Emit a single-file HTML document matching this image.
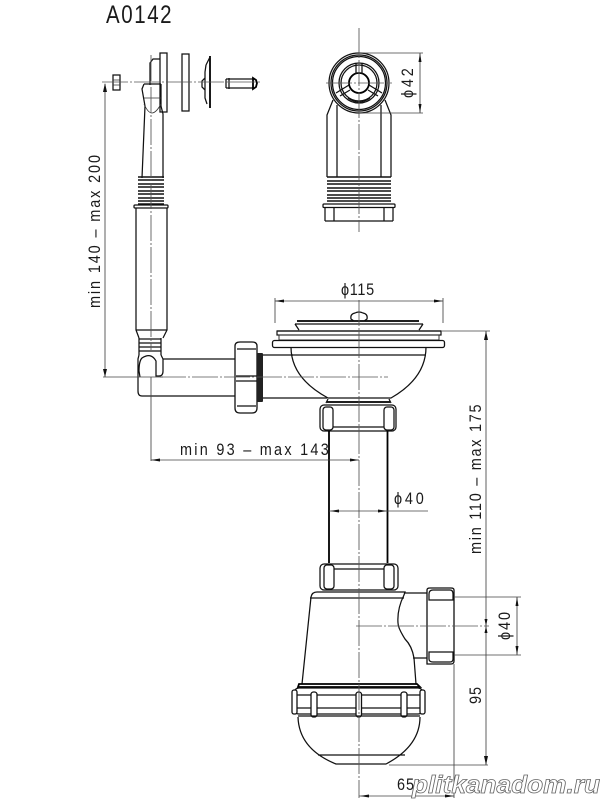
<!DOCTYPE html>
<html><head><meta charset="utf-8"><style>
html,body{margin:0;padding:0;background:#fff}
svg{display:block}
text{font-family:"Liberation Sans",sans-serif;fill:#1a1a1a}
.k{fill:none;stroke:#111;stroke-width:1.25}
.h{fill:none;stroke:#000;stroke-width:1.8}
.th{fill:none;stroke:#111;stroke-width:1.6}
.t{fill:none;stroke:#333;stroke-width:.8}
.d{fill:none;stroke:#444;stroke-width:.85}
.c{fill:none;stroke:#555;stroke-width:.85;stroke-dasharray:26 2 2 2}
.a{fill:#111;stroke:none}
.w{fill:#fff;stroke:#111;stroke-width:1.3}
</style></head><body>
<svg width="600" height="800" viewBox="0 0 600 800" xmlns="http://www.w3.org/2000/svg">
<rect width="600" height="800" fill="#fff"/>
<g transform="translate(106 23) scale(.82 1)"><text x="0" y="0" font-size="25" textLength="80">A0142</text></g>

<!-- left exploded assembly -->
<rect class="k" x="113" y="75" width="7" height="15"/><path class="t" d="M113 80h7M113 85h7"/>
<path class="k" d="M160 59h-7l-3 4v22"/>
<rect class="k" x="160" y="53" width="7" height="59"/>
<path class="k" d="M144 84h17M144 84l-2 5 3 17-3 72M161 84v22l2 8v64"/>
<path class="t" d="M144 98h17M144 104q4 9 8 9t9-9"/>
<rect class="k" x="182" y="54" width="7" height="57"/>
<path class="h" d="M210 56v52"/><path class="k" d="M206 65l-1 7v26l2 6M206 65l4-8M205 78l-3 3v6l3 3"/>
<path class="k" d="M226 79h27M226 88h27M226 79v9M229 78v11"/><path class="h" d="M253 78l3 2 1 3-1 4-3 2z"/>
<!-- threads -->
<path class="th" d="M138 177h26M138 180h26M138 184h26M138 187h26M138 191h26M138 194h26M138 198h26M138 201h26M138 204h26"/>
<rect class="k" x="134" y="205" width="34" height="3" rx="1"/>
<path class="k" d="M136 208V330l3 8M167 208V330l-4 8M136 330h31"/>
<path class="k" d="M139 338l0 17M161 338l0 17M139 339h22M139 343h22M139 347h22M139 351h22"/>
<path class="k" d="M139 355l-1 4V391q0 5 4 5H236M161 355l2 4v12q0 5-4 5h-3V361q-5-9-14-3 -3 3-3 13l1 6M163 359H236"/>
<!-- nut left -->
<path class="w" d="M235 346q0-4 5-4h12q5 0 5 4v62q0 5-5 5h-12q-5 0-5-5z"/>
<path class="k" d="M236 376h21M236 381h21M237 349h19M237 406h19"/>
<rect x="257" y="353" width="6" height="49" rx="1" fill="#222"/>
<path class="k" d="M263 355h30M263 398h64"/>

<!-- right top view -->
<circle class="k" cx="359" cy="83" r="30"/><circle class="k" cx="359" cy="83" r="28"/><circle class="k" cx="359" cy="83" r="26.5"/>
<circle class="k" cx="359" cy="83" r="20"/><circle class="k" cx="359" cy="83" r="18"/><circle class="h" cx="359" cy="83" r="10"/>
<path class="k" d="M356 63v11M362 63v11M349 85l-13 8M369 85l13 8M350 90l-10 6M368 90l10 6M348 98q11 8 22 0"/>
<path class="k" d="M333 100l-6 15V177M385 100l6 15V177M337 105v72M381 105v72"/>
<path class="th" d="M327 177h64M327 181h64M327 184h64M327 188h64M327 191h64M327 195h64M327 198h64M327 201h64"/>
<rect class="k" x="323" y="204" width="72" height="3.5" rx="1"/>
<path class="k" d="M325 207v14M393 207v14M334 207v14M384 207v14M325 221h68"/>

<!-- strainer -->
<path class="h" d="M297 321h122"/>
<path class="k" d="M351 319q-1-5 4-6q4-2 8 0q5 1 4 6l-3 2h-10z"/>
<path class="k" d="M295 324h128M295 324l4 6M423 324l-4 6M277 331h164"/>
<rect x="277" y="331" width="164" height="4" fill="none" stroke="#111" stroke-width="1.2"/>
<rect x="279" y="335" width="160" height="5" fill="none" stroke="#333" stroke-width="1"/>
<rect class="w" x="272.500" y="340.500" width="172" height="7" rx="2"/>
<path class="k" d="M291 347q0 31 37 51H391Q426 378 426 347M291 355h135"/>
<path class="h" d="M327 402h63" stroke-width="2.500"/>
<path class="k" d="M328 399l-2 4M389 399l2 4"/>
<rect class="k" x="320" y="405" width="76" height="26" rx="4"/>
<rect class="k" x="323" y="407" width="10" height="23" rx="3"/>
<rect class="k" x="384" y="407" width="10" height="23" rx="3"/>
<path class="k" d="M333 427h51"/>
<!-- pipe -->
<path class="h" d="M329 431V563M387.500 431V563" stroke-width="1.300"/>

<!-- bottle trap -->
<rect class="k" x="320" y="564" width="78" height="26" rx="4"/>
<rect class="k" x="324" y="565" width="10" height="24" rx="3"/>
<rect class="k" x="384" y="565" width="10" height="24" rx="3"/>
<path class="k" d="M334 569h50"/>
<path class="k" d="M311 597q1-5 6-5H405l-1 3q-7 14-6 28q0 5 7 16q7 7 9 19l2 26M311 597L302 684M405 593H427M413 658h14"/>
<path class="k" d="M310 598H404"/>
<path class="w" d="M427 590q0-2 3-2h21q3 0 3 2v71q0 3-3 3h-24z"/>
<path class="k" d="M429 594q0-4 4-4h17q3 0 3 4v6h-24zM429 652h24v7q0 3-3 3h-17q-4 0-4-3z"/>
<path class="h" d="M299 684h118l3 3H298z"/>
<rect class="k" x="294" y="688" width="129" height="26" rx="5"/>
<path class="k" d="M296 695h125M296 708h125"/>
<rect class="w" x="292" y="690" width="5" height="24" rx="2"/><rect class="w" x="420" y="690" width="5" height="24" rx="2"/>
<rect class="w" x="311" y="692" width="6" height="25" rx="2.500"/>
<rect class="w" x="356" y="692" width="5.500" height="25" rx="2.500"/>
<rect class="w" x="401" y="692" width="6" height="25" rx="2.500"/>
<path class="k" d="M298 717q1 32 38 47H386Q420 746 420 717M298 716h122M318 755H405"/>

<!-- centre lines -->
<path class="c" d="M102 82H262"/><path class="c" d="M151 55V350"/>
<path class="c" d="M160 377H388"/><path class="c" d="M359 300V798"/><path class="c" d="M359 28V232"/>
<path class="c" d="M326 83H392"/><path class="c" d="M356 626H489"/>

<!-- dimensions -->
<g class="d">
<path d="M105 84V377M103 377h60"/>
<path d="M151 377V461M151 460H359"/>
<path d="M275 298v25M443 298v25M275 301h168"/>
<path d="M359 53H423M359 113H423M420 53V113"/>
<path d="M441 331H490M486 331V765M389 765H488"/>
<path d="M329 511H428"/>
<path d="M454 597H521M454 655H521M517 597V655"/>
<path d="M454 664V798M359 796H454"/>
</g>
<g class="a">
<path d="M105 83l-2 9h4zM105 377l-2-8h4z"/>
<path d="M151 460l9-1.500v3zM359 460l-9-1.500v3z"/>
<path d="M275 301l9-1.500v3zM443 301l-9-1.500v3z"/>
<path d="M420 53l-1.500 9h3zM420 113l-1.500-9h3z"/>
<path d="M486 331l-2 9h4zM486 765l-2-9h4z"/>
<path d="M330 511l9-1.500v3zM387 511l-9-1.500v3z"/>
<path d="M517 597l-1.500 9h3zM517 655l-1.500-9h3z"/>
<path d="M486 626l-1.500-7h3zM486 626l-1.500 7h3z"/>
<path d="M360 796l9-1.500v3zM454 796l-9-1.500v3z"/>
</g>

<!-- labels: condensed glyphs, wide spacing -->
<g font-size="17">
<g transform="translate(100 308) rotate(-90) scale(.85 1)"><text textLength="180">min 140 – max 200</text></g>
<g transform="translate(180 455) scale(.85 1)"><text textLength="175">min 93 – max 143</text></g>
<g transform="translate(341 295) scale(.85 1)"><text textLength="39">ϕ115</text></g>
<g transform="translate(413 98) rotate(-90) scale(.85 1)"><text textLength="35">ϕ42</text></g>
<g transform="translate(394 504) scale(.85 1)"><text textLength="35">ϕ40</text></g>
<g transform="translate(481 554) rotate(-90) scale(.85 1)"><text textLength="176">min 110 – max 175</text></g>
<g transform="translate(510 640) rotate(-90) scale(.85 1)"><text textLength="33">ϕ40</text></g>
<g transform="translate(481 704) rotate(-90) scale(.85 1)"><text textLength="20">95</text></g>
<g transform="translate(397 790) scale(.85 1)"><text textLength="20">65</text></g>
</g>
<text x="412" y="793" font-size="25" font-style="italic" font-weight="bold" textLength="188" lengthAdjust="spacingAndGlyphs" style="fill:#fff;stroke:#666;stroke-width:.8">plitkanadom.ru</text>
</svg>
</body></html>
